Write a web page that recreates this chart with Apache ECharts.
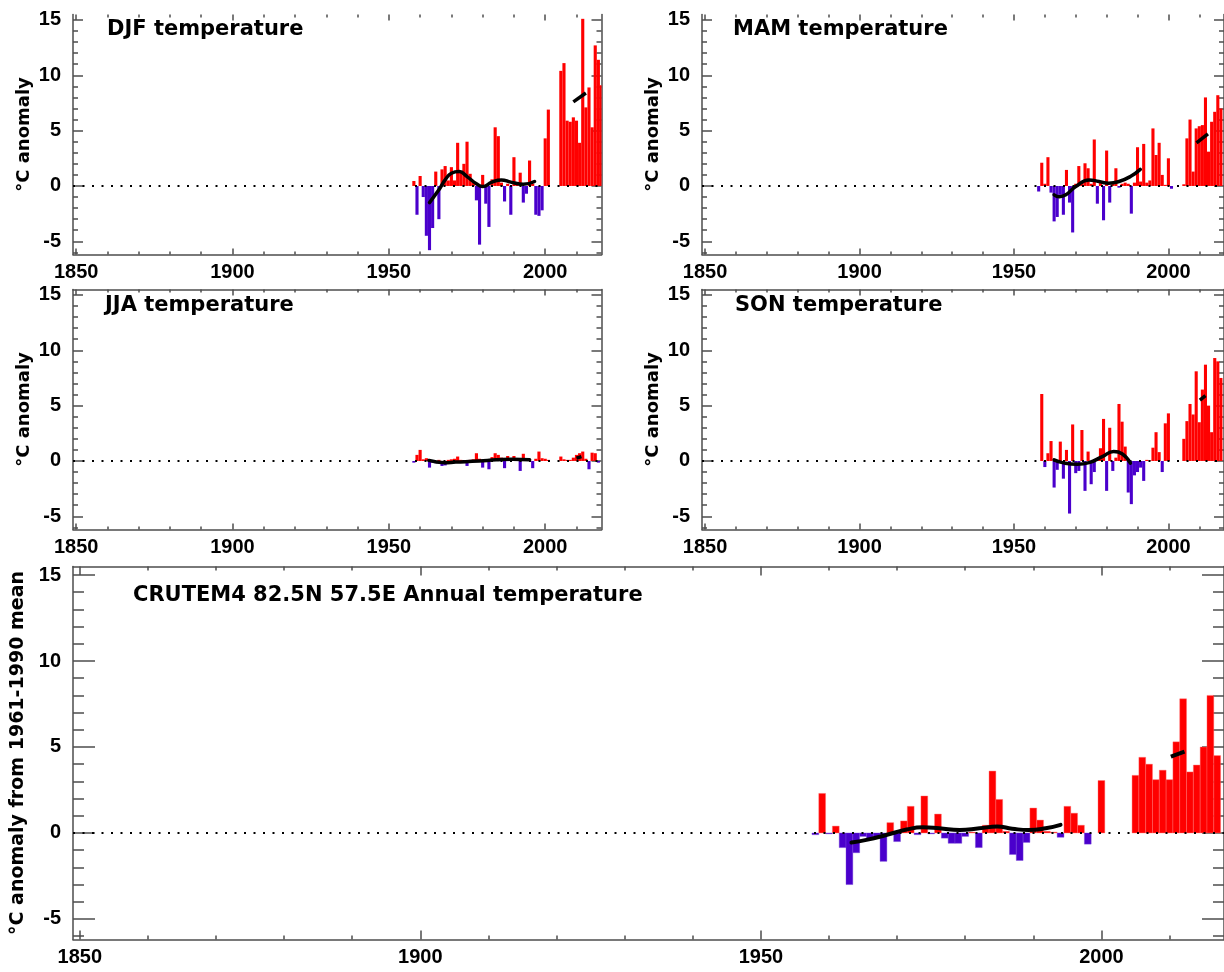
<!DOCTYPE html>
<html><head><meta charset="utf-8">
<script src="https://cdn.jsdelivr.net/npm/echarts@6/dist/echarts.min.js"></script>
<style>html,body{margin:0;padding:0;background:#fff}#c{width:1224px;height:972px}</style>
</head><body><div id="c"></div>
<script>
// ---------------- DATA ----------------
const years = [1958,1959,1960,1961,1962,1963,1964,1965,1966,1967,1968,1969,1970,1971,1972,1973,1974,1975,1976,1977,1978,1979,1980,1981,1982,1983,1984,1985,1986,1987,1988,1989,1990,1991,1992,1993,1994,1995,1996,1997,1998,1999,2000,2001,2002,2003,2004,2005,2006,2007,2008,2009,2010,2011,2012,2013,2014,2015,2016,2017,2018];

const djf = [0.45,-2.6,0.9,-1.0,-4.5,-5.8,-3.8,1.3,-3.0,1.5,1.8,0.5,1.7,0.5,3.9,1.3,2.0,4.0,1.1,0.3,-1.3,-5.3,1.0,-1.6,-3.7,0.6,5.3,4.5,0.3,-1.4,0.2,-2.6,2.6,0.2,1.2,-1.5,-0.7,2.3,0.2,-2.6,-2.7,-2.2,4.3,6.9,null,null,null,10.4,11.1,5.9,5.8,6.2,5.9,3.9,15.1,7.1,8.9,5.3,12.7,11.4,9.1];
const mam = [-0.5,2.1,0.2,2.6,-0.6,-3.2,-2.8,-0.8,-2.6,1.45,-1.5,-4.2,0.2,1.8,0.3,2.05,1.6,0.2,4.2,-1.6,0.3,-3.1,3.2,-1.5,0.2,1.6,-0.15,0.2,0.3,0.2,-2.5,0.3,3.5,0.4,3.8,0.3,0.5,5.2,2.8,3.9,1.0,0.1,2.5,-0.25,null,null,null,0.15,4.3,6.0,1.3,5.2,5.4,5.5,8.0,3.1,5.8,6.7,8.2,7.0,null];
const jja = [-0.15,0.55,1.0,0.15,0.25,-0.6,-0.15,-0.2,0.1,-0.45,-0.4,0.1,0.15,0.2,0.4,0.1,0.05,-0.45,0.1,0.15,0.7,0.2,-0.6,0.1,-0.75,0.35,0.7,0.55,0.3,-0.65,0.45,0.2,0.45,0.1,-0.9,0.65,0.1,0.15,-0.65,0.2,0.85,0.25,0.2,0.1,null,null,null,0.4,0.15,0.1,0.1,0.3,0.55,0.7,0.85,0.2,-0.75,0.75,0.7,-0.15,null];
const son = [null,6.05,-0.55,0.7,1.8,-2.4,-0.8,1.75,-1.6,1.0,-4.75,3.3,-1.1,-0.9,2.8,-2.7,0.85,-2.1,-1.0,0.2,1.15,3.8,-2.7,3.0,-0.9,0.3,5.15,3.55,1.3,-2.85,-3.9,-1.3,-1.0,-0.6,-1.8,0.1,0.05,1.2,2.6,0.8,-1.0,3.4,4.3,null,null,null,null,2.0,3.6,5.15,4.2,8.1,3.5,6.45,8.7,5.0,2.6,9.3,9.0,7.5,null];
const annual = [-0.1,2.3,-0.05,0.4,-0.85,-3.0,-1.15,-0.2,-0.35,-0.3,-1.65,0.6,-0.5,0.7,1.55,-0.1,2.15,-0.05,1.1,-0.3,-0.6,-0.6,-0.2,0.05,-0.85,0.45,3.6,1.95,0.1,-1.25,-1.6,-0.55,1.45,0.75,0.1,0.05,-0.25,1.55,1.15,0.45,-0.65,null,3.05,null,null,null,null,3.35,4.4,4.0,3.1,3.65,3.1,5.3,7.8,3.55,3.95,5.0,8.0,4.5,null];

// smoothed curves
const djfSmoothYears = [1963,1966,1968,1970,1972.5,1975,1978,1980,1983,1986,1989,1993,1996.6];
const djfSmoothVals  = [-1.5,-0.35,0.55,1.15,1.3,0.85,0.2,-0.05,0.35,0.55,0.35,0.15,0.4];
const djfRecentYears = [2009,2013];
const djfRecentVals  = [7.6,8.4];

const mamSmoothYears = [1963,1964.7,1966.8,1970,1974.3,1977.5,1980.7,1984,1987.7,1990.9];
const mamSmoothVals  = [-0.8,-0.97,-0.8,-0.05,0.55,0.4,0.25,0.4,0.85,1.5];
const mamRecentYears = [2009.1,2012.8];
const mamRecentVals  = [3.9,4.7];

const jjaSmoothYears = [1962.8,1967.7,1971.4,1978.9,1984.3,1989.6,1995];
const jjaSmoothVals  = [0.05,-0.15,-0.1,0.0,0.1,0.15,0.1];
const jjaRecentYears = [2010,2011.6];
const jjaRecentVals  = [0.25,0.4];

const sonSmoothYears = [1963,1965.7,1970.5,1974.3,1978.6,1982.3,1985,1987.7];
const sonSmoothVals  = [0.1,-0.15,-0.3,-0.15,0.4,0.85,0.65,-0.2];
const sonRecentYears = [2010.2,2012];
const sonRecentVals  = [5.5,5.9];

const annSmoothYears = [1963.3,1965.5,1968.4,1971.4,1973.8,1976.2,1979.2,1982.1,1984.7,1986.9,1989.3,1991.8,1994];
const annSmoothVals  = [-0.56,-0.4,-0.12,0.2,0.33,0.27,0.17,0.27,0.37,0.25,0.17,0.27,0.47];
const annRecentYears = [2010.2,2012.2];
const annRecentVals  = [4.44,4.73];

// axis ticks / labels
const xMajorTicks = [1850,1900,1950,2000];
const xMinorTicks = [1860,1870,1880,1890,1910,1920,1930,1940,1960,1970,1980,1990,2010];
const yMajorTicks = [-5,0,5,10,15];
const yMinorTicks = [-6,-4,-3,-2,-1,1,2,3,4,6,7,8,9,11,12,13,14];
const X_MIN = 1849, X_MAX = 2018, Y_MIN = -6.2, Y_MAX = 15.5;

const titles = ['DJF temperature','MAM temperature','JJA temperature','SON temperature','CRUTEM4 82.5N 57.5E Annual temperature'];
const yNames = ['\u00B0C anomaly','\u00B0C anomaly','\u00B0C anomaly','\u00B0C anomaly','\u00B0C anomaly from 1961-1990 mean'];

// ---------------- STYLE / LAYOUT ----------------
const FONT_NUM = '"Liberation Sans", Arial, sans-serif';
const FONT_TXT = '"DejaVu Sans", sans-serif';
const RED = '#ff0000', BLUE = '#4a00cc', AXC = '#4d4d4d';

const panels = [
  {grid:{left:73, top:14.4, width:528.5, height:240.2}, tl:107, tt:19, big:false, topLine:false, vals:djf, sy:djfSmoothYears, sv:djfSmoothVals, ry:djfRecentYears, rv:djfRecentVals},
  {grid:{left:702, top:14.4, width:528.5, height:240.2}, tl:733, tt:19, big:false, topLine:false, vals:mam, sy:mamSmoothYears, sv:mamSmoothVals, ry:mamRecentYears, rv:mamRecentVals},
  {grid:{left:73, top:289.4, width:528.5, height:240.2}, tl:105, tt:295, big:false, topLine:true, vals:jja, sy:jjaSmoothYears, sv:jjaSmoothVals, ry:jjaRecentYears, rv:jjaRecentVals},
  {grid:{left:702, top:289.4, width:528.5, height:240.2}, tl:735, tt:295, big:false, topLine:true, vals:son, sy:sonSmoothYears, sv:sonSmoothVals, ry:sonRecentYears, rv:sonRecentVals},
  {grid:{left:73, top:566.4, width:1156, height:373.2}, tl:133, tt:585, big:true, topLine:true, vals:annual, sy:annSmoothYears, sv:annSmoothVals, ry:annRecentYears, rv:annRecentVals}
];

function tick(vals, len) {
  return {show:true, inside:true, length:len, customValues:vals, lineStyle:{color:AXC, width:1.5}};
}
const lineOn = {show:true, onZero:false, lineStyle:{color:AXC, width:1.5}};
const lineOff = {show:false, onZero:false};
const plain = v => String(v);

const grids = [], xAxes = [], yAxes = [], series = [], titleArr = [];

panels.forEach((p, gi) => {
  grids.push(Object.assign({containLabel:false}, p.grid));
  const xMaj = p.big ? 9 : 6, xMin = p.big ? 4 : 3;
  const yMaj = p.big ? 22 : 10, yMin = p.big ? 11 : 5;
  const xb = {type:'value', gridIndex:gi, min:X_MIN, max:X_MAX, splitLine:{show:false}, axisLabel:{show:false}};
  xAxes.push(Object.assign({}, xb, {position:'bottom', axisLine:lineOn, axisTick:tick(xMajorTicks, xMaj),
    axisLabel:{show:true, customValues:xMajorTicks, formatter:plain, margin:8, fontSize:20, fontWeight:'bold', color:'#000', fontFamily:FONT_NUM}}));
  xAxes.push(Object.assign({}, xb, {position:'bottom', axisLine:lineOff, axisTick:tick(xMinorTicks, xMin)}));
  xAxes.push(Object.assign({}, xb, {position:'top', axisLine:p.topLine ? lineOn : lineOff, axisTick:tick(xMajorTicks, xMaj)}));
  xAxes.push(Object.assign({}, xb, {position:'top', axisLine:lineOff, axisTick:tick(xMinorTicks, xMin)}));

  const yb = {type:'value', gridIndex:gi, min:Y_MIN, max:Y_MAX, splitLine:{show:false}, axisLabel:{show:false}};
  yAxes.push(Object.assign({}, yb, {position:'left', axisLine:lineOn, axisTick:tick(yMajorTicks, yMaj),
    axisLabel:{show:true, customValues:yMajorTicks, formatter:plain, margin:12, fontSize:20, fontWeight:'bold', color:'#000', fontFamily:FONT_NUM},
    name:yNames[gi], nameLocation:'middle', nameGap:40,
    nameTextStyle:{fontSize:p.big ? 19 : 18, fontWeight:'bold', color:'#000', fontFamily:FONT_TXT}}));
  yAxes.push(Object.assign({}, yb, {position:'left', axisLine:lineOff, axisTick:tick(yMinorTicks, yMin)}));
  yAxes.push(Object.assign({}, yb, {position:'right', axisLine:lineOn, axisTick:tick(yMajorTicks, yMaj)}));
  yAxes.push(Object.assign({}, yb, {position:'right', axisLine:lineOff, axisTick:tick(yMinorTicks, yMin)}));

  const xi = gi * 4, yi = gi * 4;
  const barData = [];
  years.forEach((y, i) => { if (p.vals[i] !== null) barData.push([y, p.vals[i]]); });
  const big = p.big;

  series.push({
    type:'custom', xAxisIndex:xi, yAxisIndex:yi, data:barData, z:2, silent:true,
    renderItem: function (params, api) {
      const yr = api.value(0), v = api.value(1);
      const a = api.coord([yr - 0.5, v]);
      const b = api.coord([yr + 0.5, 0]);
      const cs = params.coordSys;
      const shape = echarts.graphic.clipRectByRect(
        {x:a[0], y:Math.min(a[1], b[1]), width:b[0] - a[0], height:Math.abs(b[1] - a[1])},
        {x:cs.x, y:cs.y, width:cs.width, height:cs.height});
      if (!shape) return null;
      const style = {fill: v >= 0 ? RED : BLUE};
      if (big) { style.stroke = v >= 0 ? '#ff7070' : '#7a4ad8'; style.lineWidth = 0.4; }
      return {type:'rect', shape:shape, style:style};
    }
  });
  series.push({
    type:'line', xAxisIndex:xi, yAxisIndex:yi, data:[[X_MIN,0],[X_MAX,0]], symbol:'none', z:3, silent:true,
    lineStyle:{color:'#000', width:2, type:[2,7.5]}
  });
  const lw = p.big ? 4 : 3.5;
  series.push({
    type:'line', xAxisIndex:xi, yAxisIndex:yi, data:p.sy.map((y, i) => [y, p.sv[i]]), symbol:'none', smooth:0.5, z:4, silent:true,
    lineStyle:{color:'#000', width:lw, cap:'round'}
  });
  series.push({
    type:'line', xAxisIndex:xi, yAxisIndex:yi, data:p.ry.map((y, i) => [y, p.rv[i]]), symbol:'none', z:4, silent:true,
    lineStyle:{color:'#000', width:lw, cap:'butt'}
  });

  titleArr.push({text:titles[gi], left:p.tl, top:p.tt, padding:0,
    textStyle:{fontSize:21, fontWeight:'bold', color:'#000', fontFamily:FONT_TXT}});
});

const chart = echarts.init(document.getElementById('c'), null, {renderer:'canvas'});
chart.setOption({
  animation:false,
  backgroundColor:'#fff',
  title:titleArr,
  grid:grids,
  xAxis:xAxes,
  yAxis:yAxes,
  series:series
});
</script>
</body></html>
